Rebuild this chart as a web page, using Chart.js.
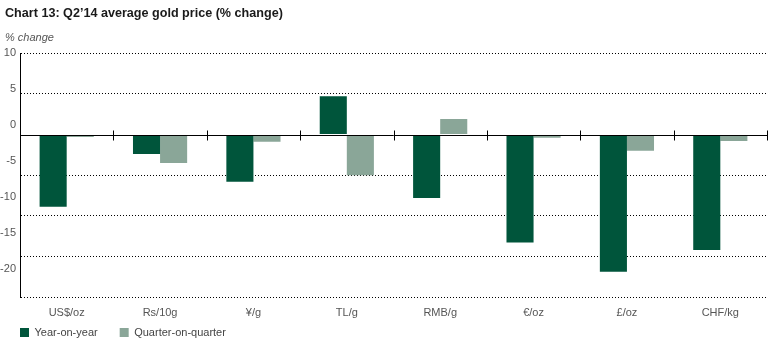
<!DOCTYPE html>
<html>
<head>
<meta charset="utf-8">
<script src="https://cdn.jsdelivr.net/npm/chart.js@4/dist/chart.umd.min.js"></script>
<style>
  html, body { margin: 0; padding: 0; background: #fff; overflow: hidden; }
  canvas { display: block; }
</style>
</head>
<body>
<canvas id="goldChart" width="772" height="348"></canvas>
<script>
const categories = ["US$/oz", "Rs/10g", "¥/g", "TL/g", "RMB/g", "€/oz", "£/oz", "CHF/kg"];
const yearOnYear = [-8.9, -2.4, -5.8, 4.7, -7.8, -13.3, -16.9, -14.2];
const quarterOnQuarter = [-0.3, -3.5, -0.9, -5.0, 1.9, -0.4, -2.0, -0.8];

const FONT = "'Liberation Sans', Arial, sans-serif";

// solid zero line with category tick marks crossing it
const zeroLine = {
  id: "zeroLine",
  afterLayout(chart) {
    // let the left labels and bottom labels draw outside their tight boxes
    chart.scales.yLab.left = 0;
    chart.scales.x.bottom = chart.scales.x.top + 26;
    chart.legend.left = -2;
  },
  afterDatasetsDraw(chart) {
    const { ctx, chartArea, scales } = chart;
    const y0 = Math.round(scales.y.getPixelForValue(0)) + 0.5;
    const step = scales.x.getPixelForValue(1) - scales.x.getPixelForValue(0);
    ctx.save();
    ctx.strokeStyle = "#000";
    ctx.lineWidth = 1;
    ctx.beginPath();
    ctx.moveTo(chartArea.left, y0);
    ctx.lineTo(chartArea.right, y0);
    for (let i = 0; i < categories.length; i++) {
      const x = Math.round(scales.x.getPixelForValue(i) + step / 2) + 0.5;
      ctx.moveTo(x, y0 - 5);
      ctx.lineTo(x, y0 + 5);
    }
    ctx.stroke();
    ctx.restore();
  },
};

new Chart(document.getElementById("goldChart").getContext("2d"), {
  type: "bar",
  data: {
    labels: categories,
    datasets: [
      {
        label: "Year-on-year",
        data: yearOnYear,
        backgroundColor: "#00553B",
      },
      {
        label: "Quarter-on-quarter",
        data: quarterOnQuarter,
        backgroundColor: "#8AA698",
      },
    ],
  },
  options: {
    responsive: false,
    animation: false,
    layout: { padding: { left: 5, right: 5, top: 0, bottom: 0 } },
    datasets: {
      bar: { categoryPercentage: 0.58, barPercentage: 1 },
    },
    plugins: {
      title: {
        display: true,
        text: "Chart 13: Q2’14 average gold price (% change)",
        align: "start",
        color: "#1a1a1a",
        font: { family: FONT, size: 12.6, weight: "bold" },
        padding: { top: 6, bottom: 10 },
      },
      subtitle: {
        display: true,
        text: "% change",
        align: "start",
        color: "#555",
        font: { family: FONT, size: 11, style: "italic" },
        padding: { top: 0, bottom: 9 },
      },
      legend: {
        display: true,
        position: "bottom",
        align: "start",
        labels: {
          boxWidth: 9,
          boxHeight: 9,
          padding: 22,
          color: "#444",
          font: { family: FONT, size: 11 },
        },
      },
      tooltip: { enabled: false },
    },
    scales: {
      x: {
        grid: { display: false, drawTicks: false },
        border: { display: false },
        ticks: {
          color: "#555",
          padding: 9,
          maxRotation: 0,
          font: { family: FONT, size: 11 },
        },
        afterFit: (s) => { s.height = 8; },
      },
      y: {
        min: -20,
        max: 10,
        weight: 0,
        ticks: { display: false, stepSize: 5 },
        grid: {
          drawTicks: false,
          color: (c) => (c.tick && c.tick.value === 0 ? "rgba(0,0,0,0)" : "#000"),
          lineWidth: 1,
        },
        border: { display: true, color: "#000", width: 1, dash: [1, 2] },
        afterFit: (s) => { s.width = 0; },
      },
      yLab: {
        type: "linear",
        position: "left",
        min: -23.89,
        max: 10,
        weight: 1,
        grid: { display: false, drawTicks: false },
        border: { display: false },
        ticks: {
          stepSize: 5,
          includeBounds: false,
          autoSkip: false,
          padding: 4,
          color: "#555",
          font: { family: FONT, size: 11 },
          callback: (v) => (v % 5 === 0 ? v : ""),
        },
        afterFit: (s) => { s.width = 15; },
      },
    },
  },
  plugins: [zeroLine],
});
</script>
</body>
</html>
